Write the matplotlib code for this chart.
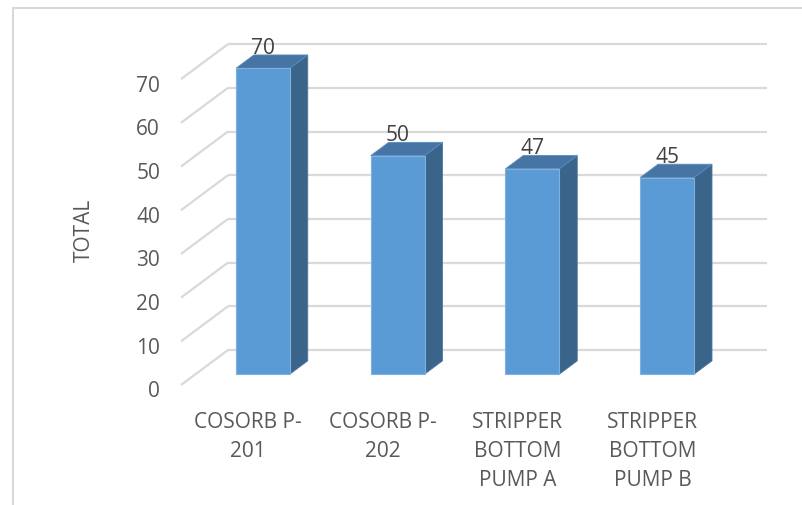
import matplotlib
matplotlib.use("Agg")
import matplotlib.pyplot as plt
from matplotlib.patches import Polygon, Rectangle

# ---- data ----
categories = ["COSORB P-\n201", "COSORB P-\n202", "STRIPPER\nBOTTOM\nPUMP A", "STRIPPER\nBOTTOM\nPUMP B"]
values = [70, 50, 47, 45]
y_ticks = [0, 10, 20, 30, 40, 50, 60, 70]
y_title = "TOTAL"

plt.rcParams['font.family'] = ['Open Sans', 'DejaVu Sans']

W, H = 803, 505
fig = plt.figure(figsize=(W / 100, H / 100), dpi=100)
ax = fig.add_axes([0, 0, 1, 1])
ax.axis('off')

# pixel mapping helpers (layout only)
px_front_left = 181.0
px_cat = 134.75
py_zero = 385.0
px_per_unit = 4.37
depth_px = (47.0, 35.0)
dx = depth_px[0] / px_cat
dy = depth_px[1] / px_per_unit

ax.set_xlim(-0.5 - px_front_left / px_cat, -0.5 + (W - px_front_left) / px_cat)
ax.set_ylim(-(H - py_zero) / px_per_unit, py_zero / px_per_unit)

grid_c = '#D9D9D9'
fs = 15
n = len(categories)
x_left = -0.5
x_right = n - 0.5

# gridlines: front diagonal + back wall
for v in y_ticks:
    ax.plot([x_left, x_left + dx], [v, v + dy], color=grid_c, lw=1.6, zorder=1,
            solid_capstyle='butt')
    ax.plot([x_left + dx, x_right + dx], [v + dy, v + dy], color=grid_c, lw=1.6,
            zorder=1, solid_capstyle='butt')
    ax.text(x_left - 21 / px_cat, v - 1.6, str(v), ha='right', va='center',
            fontsize=fs, color='#595959')

# bars
f0, f1 = 0.31, 0.69
half_w = 0.2
front_c = '#5B9BD5'
top_c = '#4675A5'
side_c = '#3A6489'
ddx = (f1 - f0) * dx
ddy = (f1 - f0) * dy
for i, v in enumerate(values):
    x0 = i - half_w + f0 * dx
    x1 = i + half_w + f0 * dx
    y0 = f0 * dy
    y1 = v + f0 * dy
    ax.add_patch(Polygon([(x1, y0), (x1 + ddx, y0 + ddy), (x1 + ddx, y1 + ddy), (x1, y1)],
                         closed=True, facecolor=side_c, edgecolor='#4A7AA6', lw=0.6, zorder=3))
    ax.add_patch(Polygon([(x0, y1), (x1, y1), (x1 + ddx, y1 + ddy), (x0 + ddx, y1 + ddy)],
                         closed=True, facecolor=top_c, edgecolor='#5A8CBE', lw=0.6, zorder=3))
    ax.add_patch(Rectangle((x0, y0), x1 - x0, y1 - y0, facecolor=front_c,
                           edgecolor='#7FB0DE', lw=0.8, zorder=4))
    ax.text(i + f0 * dx, v + f1 * dy + 0.3, str(v), ha='center', va='baseline',
            fontsize=fs, color='#404040', zorder=5)

# category labels
for i, c in enumerate(categories):
    ax.text(i, -27 / px_per_unit, c, ha='center', va='top', fontsize=fs,
            color='#595959', linespacing=1.5)

# axis title
ax.text(x_left - 97 / px_cat, 155 / px_per_unit, y_title, rotation=90, ha='center',
        va='center', fontsize=fs, color='#595959')

# chart area border
fig.patches.append(Rectangle((13 / W, -0.1), 1.2, 1 - 8 / H + 0.1, transform=fig.transFigure,
                             fill=False, edgecolor='#D9D9D9', lw=1.5, zorder=0))

fig.savefig('out.png', dpi=100)
